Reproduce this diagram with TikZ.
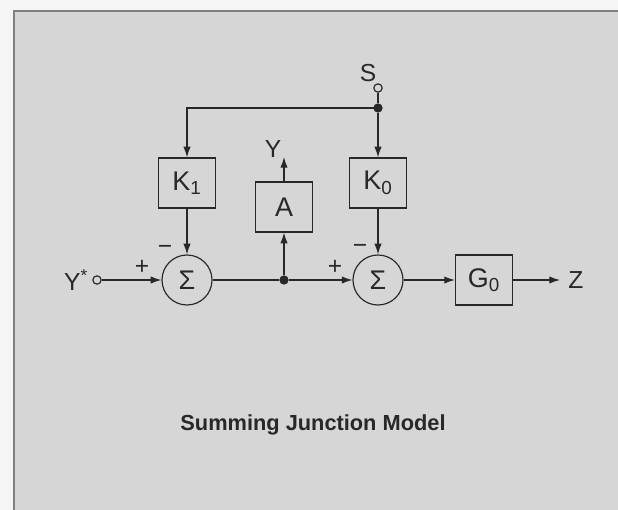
\documentclass[tikz,border=0pt]{standalone}
\usepackage{fontspec}
\setmainfont{Liberation Sans}
\usepackage{tikz}
\usetikzlibrary{arrows.meta,positioning,calc}
\definecolor{ink}{RGB}{40,40,40}
\definecolor{panel}{RGB}{214,214,214}
\tikzset{
gain_box/.style={rectangle, draw=ink, line width=1pt, minimum width=1.71cm, minimum height=1.5cm, inner sep=0pt, text=ink, font=\fontsize{23}{26}\selectfont},
sum_node/.style={circle, draw=ink, line width=1pt, minimum size=1.5cm, inner sep=0pt, text=ink, font=\fontsize{23}{26}\selectfont},
terminal/.style={circle, draw=ink, line width=1pt, fill=panel, minimum size=0.25cm, inner sep=0pt},
junction/.style={circle, fill=ink, minimum size=0.28cm, inner sep=0pt},
wire/.style={draw=ink, line width=1pt},
signal/.style={draw=ink, line width=1pt, -{Latex[length=3.2mm,width=2.2mm]}},
sig_label/.style={inner sep=0pt, text=ink, font=\fontsize{21}{24}\selectfont},
sign_mark/.style={inner sep=0pt, text=ink, font=\fontsize{21}{22}\selectfont},
title_text/.style={inner sep=0pt, text=ink, font=\fontsize{18.6}{22}\selectfont\bfseries}
}

\begin{document}
\begin{tikzpicture}[x=0.03cm, y=-0.03cm]
    % page and panel
    \fill[white!96!black] (0,0) rectangle (618,510);
    \useasboundingbox (0,0) rectangle (618,510);
    \fill[panel] (14,11) rectangle (618,510);
    \draw[gray, line width=1pt] (14,510) -- (14,11) -- (618,11);

    \node[sum_node] (sum_1) at (187,280) {Σ};
    \node[sum_node] (sum_2) at (378,280) {Σ};
    \node[gain_box] (k_1) at (187,183) {K\textsubscript{1}};
    \node[gain_box] (k_0) at (378,183) {K\textsubscript{0}};
    \node[gain_box] (amp) at (284,207) {A};
    \node[gain_box] (g_0) at (484,280) {G\textsubscript{0}};
    \node[terminal] (in_term) at (97,280) {};
    \node[terminal] (s_term) at (378,88) {};
    \node[junction] (j_out) at (284,280) {};
    \node[junction] (j_s) at (378,108) {};
    \coordinate (y_end) at (284,157);
    \coordinate (z_end) at (560,280);

    \node[sig_label] (y_star) at (76,280) {Y\textsuperscript{*}};
    \node[sig_label] (s_lbl) at (368,73) {S};
    \node[sig_label] (y_lbl) at (273,149) {Y};
    \node[sig_label] (z_lbl) at (576,280) {Z};

    \node[sign_mark] (plus_1) at (142,267) {+};
    \node[sign_mark] (minus_1) at (165,250) {−};
    \node[sign_mark] (plus_2) at (335,267) {+};
    \node[sign_mark] (minus_2) at (360,249) {−};

    \draw[signal] (in_term) -- (sum_1);
    \draw[wire] (sum_1) -- (j_out);
    \draw[signal] (j_out) -- (sum_2);
    \draw[signal] (j_out) -- (amp);
    \draw[signal] (amp) -- (y_end);
    \draw[wire] (s_term) -- (j_s);
    \draw[signal] (j_s) -- (k_0);
    \draw[signal] (j_s.center) -| (k_1.north);
    \draw[signal] (k_1) -- (sum_1);
    \draw[signal] (k_0) -- (sum_2);
    \draw[signal] (sum_2) -- (g_0);
    \draw[signal] (g_0) -- (z_end);

    \node[title_text] (title) at (313,425) {Summing Junction Model};
\end{tikzpicture}
\end{document}
